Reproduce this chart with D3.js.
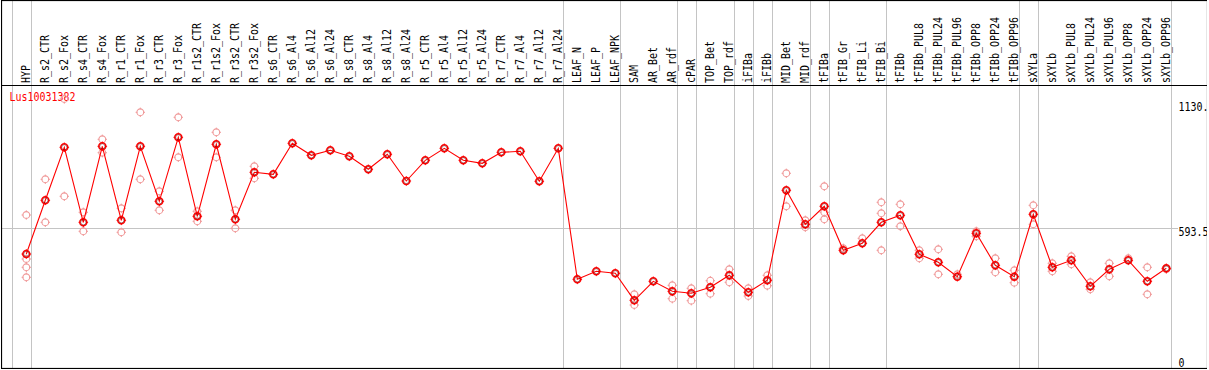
<!DOCTYPE html>
<html lang="en">
<head>
<meta charset="UTF-8">
<title>Lus10031382</title>
<script src="https://d3js.org/d3.v7.min.js"></script>
<style>
    html, body { margin: 0; padding: 0; background: #fff; }
    svg { display: block; }
    text { font-family: "DejaVu Sans Mono", "Liberation Mono", monospace; }
</style>
</head>
<body>
<div class="container"></div>
<script>
    // sample names, left to right
    const samples = ["HYP", "R_s2_CTR", "R_s2_Fox", "R_s4_CTR", "R_s4_Fox", "R_r1_CTR", "R_r1_Fox",
        "R_r3_CTR", "R_r3_Fox", "R_r1s2_CTR", "R_r1s2_Fox", "R_r3s2_CTR", "R_r3s2_Fox",
        "R_s6_CTR", "R_s6_Al4", "R_s6_Al12", "R_s6_Al24", "R_s8_CTR", "R_s8_Al4", "R_s8_Al12", "R_s8_Al24",
        "R_r5_CTR", "R_r5_Al4", "R_r5_Al12", "R_r5_Al24", "R_r7_CTR", "R_r7_Al4", "R_r7_Al12", "R_r7_Al24",
        "LEAF_N", "LEAF_P", "LEAF_NPK", "SAM", "AR_Bet", "AR_rdf", "cPAR", "TOP_Bet", "TOP_rdf",
        "iFIBa", "iFIBb", "MID_Bet", "MID_rdf", "tFIBa", "tFIB_Gr", "tFIB_Li", "tFIB_Bi",
        "tFIBb", "tFIBb_PUL8", "tFIBb_PUL24", "tFIBb_PUL96", "tFIBb_OPP8", "tFIBb_OPP24", "tFIBb_OPP96",
        "sXYLa", "sXYLb", "sXYLb_PUL8", "sXYLb_PUL24", "sXYLb_PUL96", "sXYLb_OPP8", "sXYLb_OPP24", "sXYLb_OPP96"];

    // mean expression per sample
    const means = [481.6, 712.5, 940.4, 617.9, 944.7, 626.5, 944.7,
        708.2, 983.4, 643.7, 953.3, 630.8, 832.9,
        824.3, 957.6, 906.0, 927.5, 901.7, 845.8, 910.3, 795.5,
        884.5, 936.1, 884.5, 871.6, 918.9, 923.2, 794.2, 936.1,
        372.8, 407.2, 398.6, 282.5, 364.2, 321.2, 312.6, 338.4, 390.0,
        316.9, 368.5, 755.5, 609.3, 686.7, 497.5, 527.6, 617.9,
        648.0, 480.3, 445.9, 384.0, 570.6, 433.0, 384.0,
        652.3, 424.4, 454.5, 342.7, 415.8, 454.5, 364.2, 420.1];

    // individual replicates per sample
    const replicates = [
        [649.3, 460.1, 424.4, 381.4], [802.8, 617.9], [1148.1, 729.7], [660.9, 579.2], [974.8, 917.2],
        [678.1, 574.9], [1090.9, 802.8], [751.2, 669.5], [1069.4, 897.4], [665.2, 622.2],
        [1004.9, 897.4], [669.5, 592.1], [858.7, 807.1],
        [], [], [], [], [], [], [], [],
        [], [], [], [], [], [], [], [],
        [], [], [], [308.3, 262.3], [], [347.0, 289.4], [334.1, 280.8], [366.8, 310.9], [415.8, 359.9],
        [334.1, 301.0], [390.0, 345.3], [828.6, 686.7], [626.5, 596.4], [772.7, 660.9, 630.8],
        [506.1], [549.1], [703.9, 656.6, 497.5],
        [695.3, 600.7], [497.5, 463.1], [501.8, 394.3], [394.3], [579.2, 557.7], [463.1, 402.9], [411.5, 358.2],
        [691.0, 609.3], [441.6, 407.2], [471.7, 437.3], [359.9, 329.8], [441.6, 385.7], [463.1],
        [424.4, 308.3], [415.8]];

    // last sample index of each tissue group (-1 = left edge)
    const groupEnds = [-1, 0, 28, 31, 34, 35, 37, 38, 39, 41, 42, 45, 52, 53, 60];

    const yTicks = [0, 593.5, 1130.9];
    const title = "Lus10031382";

    const W = 1209, H = 370;
    const headerBottom = 85;

    let svg = d3.select(".container")
        .append("svg")
        .attr("width", W)
        .attr("height", H);

    svg.append("defs").append("clipPath").attr("id", "frame")
        .append("rect").attr("x", 1).attr("y", 0).attr("width", 1206).attr("height", 369);

    const x = d3.scaleLinear().domain([0, samples.length - 1]).range([26.3, 1166.3]);
    const y = d3.scaleLinear().domain([0, 1130.9]).range([366, 103]);

    const g = svg.append("g").attr("clip-path", "url(#frame)");

    // group separators
    g.selectAll(".vgrid")
        .data(groupEnds)
        .join("line")
        .attr("x1", d => Math.round(x(d) + 4.5) + 0.5)
        .attr("x2", d => Math.round(x(d) + 4.5) + 0.5)
        .attr("y1", 0).attr("y2", H)
        .attr("stroke", "#c4c4c4");

    // mid gridline
    g.append("line")
        .attr("x1", 1).attr("x2", 1178)
        .attr("y1", Math.round(y(593.5)) + 0.5).attr("y2", Math.round(y(593.5)) + 0.5)
        .attr("stroke", "#c4c4c4");

    // sample labels
    g.selectAll(".lab")
        .data(samples)
        .join("text")
        .attr("transform", (d, i) => `translate(${x(i) + 3.8},83) rotate(-90)`)
        .attr("font-size", 12.5)
        .attr("textLength", d => d.length * 6)
        .attr("lengthAdjust", "spacingAndGlyphs")
        .attr("fill", "#000")
        .text(d => d);

    // y labels on the right
    g.selectAll(".ylab")
        .data(yTicks)
        .join("text")
        .attr("x", 1178.5)
        .attr("y", d => d === 0 ? y(d) + 1 : y(d) + 8)
        .attr("font-size", 11.5)
        .attr("textLength", d => String(d).length * 6)
        .attr("lengthAdjust", "spacingAndGlyphs")
        .attr("fill", "#000")
        .text(d => String(d));

    // title
    g.append("text")
        .attr("x", 9.5).attr("y", 100.6)
        .attr("font-size", 11.5)
        .attr("textLength", title.length * 6)
        .attr("lengthAdjust", "spacingAndGlyphs")
        .attr("fill", "#ff0000")
        .text(title);

    function marker(sel, r, color, sw) {
        sel.append("circle").attr("r", r).attr("fill", "none").attr("stroke", color).attr("stroke-width", sw);
        [[0, -1], [0, 1], [-1, 0], [1, 0]].forEach(([dx, dy]) => {
            sel.append("line")
                .attr("x1", dx * (r - 0.5)).attr("y1", dy * (r - 0.5))
                .attr("x2", dx * (r + 1.3)).attr("y2", dy * (r + 1.3))
                .attr("stroke", color).attr("stroke-width", 1);
        });
    }

    // replicate points
    const reps = [];
    replicates.forEach((vals, i) => vals.forEach(v => reps.push({ i, v })));
    g.selectAll(".rep")
        .data(reps)
        .join("g")
        .attr("transform", d => `translate(${x(d.i)},${y(d.v)})`)
        .each(function () { marker(d3.select(this), 3.4, "#f09a9a", 1.1); });

    // mean line
    g.append("path")
        .datum(means)
        .attr("d", d3.line().x((d, i) => x(i)).y(d => y(d)))
        .attr("fill", "none")
        .attr("stroke", "#ff0000")
        .attr("stroke-width", 1.1);

    // mean points
    g.selectAll(".mean")
        .data(means)
        .join("g")
        .attr("transform", (d, i) => `translate(${x(i)},${y(d)})`)
        .each(function () {
            marker(d3.select(this), 3.5, "#ff0000", 1.5);
            d3.select(this).append("circle").attr("r", 2.6).attr("fill", "none")
                .attr("stroke", "#600").attr("stroke-width", 0.5);
        });

    // frame
    g.append("rect")
        .attr("x", 1.5).attr("y", 0.5).attr("width", 1206).attr("height", 368)
        .attr("fill", "none").attr("stroke", "#000").attr("stroke-width", 1.2);
    g.append("line")
        .attr("x1", 0).attr("x2", W)
        .attr("y1", headerBottom + 0.5).attr("y2", headerBottom + 0.5)
        .attr("stroke", "#000").attr("stroke-width", 1.2);
</script>
</body>
</html>
